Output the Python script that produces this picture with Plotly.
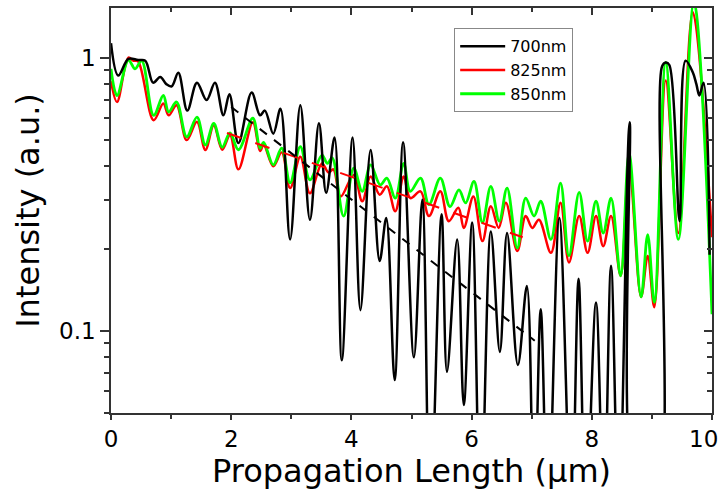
import plotly.graph_objects as go
import math

# ---- data ----
x_700 = [0.00, 0.12, 0.29, 0.45, 0.57, 0.70, 0.82, 0.92, 1.01, 1.12, 1.27, 1.43, 1.59, 1.73, 1.87, 1.97,
         2.12, 2.34, 2.48, 2.56, 2.70, 2.82, 2.98, 3.15, 3.31, 3.46, 3.58, 3.72, 3.84, 4.02, 4.15, 4.32,
         4.47, 4.58, 4.72, 4.86, 5.04, 5.18, 5.31, 5.50, 5.59, 5.76, 5.87, 6.01, 6.15, 6.32, 6.47, 6.59,
         6.77, 6.92, 7.04, 7.15, 7.27, 7.46, 7.66, 7.78, 7.90, 8.07, 8.20, 8.32, 8.45, 8.63, 8.78, 9.04,
         9.17, 9.23, 9.29, 9.46, 9.56, 9.68, 9.74, 9.79, 9.86, 9.96]
y_700 = [1.13, 0.86, 0.99, 0.98, 0.975, 0.81, 0.85, 0.80, 0.785, 0.88, 0.64, 0.81, 0.70, 0.81, 0.615, 0.735,
         0.487, 0.745, 0.615, 0.64, 0.527, 0.65, 0.216, 0.67, 0.255, 0.575, 0.32, 0.51, 0.078, 0.51, 0.119, 0.459,
         0.18, 0.259, 0.066, 0.49, 0.080, 0.302, 0.02, 0.267, 0.0708, 0.216, 0.0535, 0.249, 0.02, 0.231, 0.0837, 0.228,
         0.075, 0.146, 0.02, 0.12, 0.02, 0.259, 0.02, 0.155, 0.02, 0.127, 0.02, 0.173, 0.02, 0.58, 0.02, 0.02,
         0.93, 0.96, 0.94, 0.252, 0.975, 0.884, 0.80, 0.727, 0.81, 0.19]

x_825 = [0.00, 0.10, 0.29, 0.37, 0.45, 0.71, 0.87, 0.96, 1.09, 1.26, 1.43, 1.57, 1.71, 1.85, 1.98, 2.12,
         2.36, 2.48, 2.54, 2.70, 2.84, 2.98, 3.15, 3.31, 3.51, 3.62, 3.70, 3.82, 4.04, 4.18, 4.32, 4.47,
         4.59, 4.73, 4.87, 4.98, 5.15, 5.29, 5.48, 5.62, 5.78, 5.87, 6.03, 6.18, 6.32, 6.45, 6.57, 6.76,
         6.90, 7.01, 7.12, 7.32, 7.48, 7.62, 7.79, 7.93, 8.07, 8.19, 8.32, 8.48, 8.62, 8.82, 8.93, 9.04,
         9.23, 9.44, 9.68, 10.0]
y_825 = [0.82, 0.688, 1.0, 0.975, 0.97, 0.59, 0.679, 0.615, 0.669, 0.499, 0.582, 0.459, 0.566, 0.46, 0.52, 0.39,
         0.58, 0.455, 0.48, 0.40, 0.45, 0.333, 0.434, 0.319, 0.41, 0.38, 0.39, 0.31, 0.372, 0.298, 0.367, 0.315,
         0.338, 0.274, 0.367, 0.306, 0.324, 0.263, 0.324, 0.252, 0.282, 0.238, 0.31, 0.213, 0.286, 0.238, 0.294, 0.196,
         0.263, 0.238, 0.255, 0.193, 0.294, 0.178, 0.263, 0.193, 0.263, 0.204, 0.263, 0.159, 0.40, 0.133, 0.188, 0.122,
         0.825, 0.228, 1.47, 0.22]

x_850 = [0.00, 0.10, 0.29, 0.40, 0.51, 0.71, 0.87, 0.96, 1.09, 1.26, 1.43, 1.57, 1.71, 1.85, 1.98, 2.12,
         2.36, 2.48, 2.54, 2.70, 2.84, 2.98, 3.15, 3.31, 3.51, 3.60, 3.68, 3.87, 4.04, 4.18, 4.32, 4.48,
         4.59, 4.73, 4.87, 4.98, 5.15, 5.29, 5.48, 5.64, 5.79, 5.90, 6.04, 6.18, 6.32, 6.46, 6.59, 6.76,
         6.90, 7.04, 7.15, 7.32, 7.48, 7.62, 7.79, 7.93, 8.07, 8.19, 8.32, 8.48, 8.62, 8.82, 8.93, 9.04,
         9.23, 9.44, 9.70, 10.0]
y_850 = [0.91, 0.727, 0.98, 0.91, 0.975, 0.615, 0.727, 0.633, 0.688, 0.513, 0.606, 0.479, 0.574, 0.47, 0.53, 0.46,
         0.60, 0.466, 0.49, 0.405, 0.466, 0.348, 0.472, 0.357, 0.44, 0.41, 0.43, 0.263, 0.394, 0.324, 0.405, 0.342,
         0.362, 0.306, 0.41, 0.324, 0.362, 0.29, 0.362, 0.285, 0.328, 0.294, 0.352, 0.249, 0.338, 0.252, 0.333, 0.201,
         0.306, 0.263, 0.298, 0.216, 0.347, 0.188, 0.321, 0.213, 0.298, 0.228, 0.306, 0.159, 0.446, 0.133, 0.225, 0.127,
         0.96, 0.216, 1.6, 0.115]

fit_700_x = [2.0, 7.05]
fit_700_y = [0.66, 0.092]
fit_825_x = [1.93, 6.85]
fit_825_y = [0.53, 0.22]

x_tick_major = [0, 2, 4, 6, 8, 10]
x_tick_labels = ["0", "2", "4", "6", "8", ""]   # "10" is drawn as an annotation so it is not cut at the edge
x_last_label = "10"
x_tick_minor = [1, 3, 5, 7, 9]
y_tick_major = [0.1, 1]
y_tick_labels = ["0.1", "1"]
y_tick_minor = [0.05, 0.06, 0.07, 0.08, 0.09, 0.2, 0.3, 0.4, 0.5, 0.6, 0.7, 0.8, 0.9]

y_range = [math.log10(0.05), math.log10(1.52)]
FONT = "DejaVu Sans"
AX = "#333333"

fig = go.Figure()
fig.add_trace(go.Scatter(x=x_825, y=y_825, mode="lines", name="825nm", legendrank=2,
                         line=dict(color="#ff0000", width=2.5, shape="spline", smoothing=1.0)))
fig.add_trace(go.Scatter(x=x_850, y=y_850, mode="lines", name="850nm", legendrank=3,
                         line=dict(color="#00ff00", width=2.8, shape="spline", smoothing=1.0)))
fig.add_trace(go.Scatter(x=x_700, y=y_700, mode="lines", name="700nm", legendrank=1,
                         line=dict(color="#000000", width=2.5, shape="spline", smoothing=1.0)))
fig.add_trace(go.Scatter(x=fit_825_x, y=fit_825_y, mode="lines", showlegend=False,
                         line=dict(color="#ff0000", width=2, dash="longdash")))
fig.add_trace(go.Scatter(x=fit_700_x, y=fit_700_y, mode="lines", showlegend=False,
                         line=dict(color="#000000", width=2, dash="dash")))
# helper trace to show the mirrored (top/right) axes
fig.add_trace(go.Scatter(x=[0, 10], y=[1, 1], xaxis="x2", yaxis="y2", mode="lines",
                         opacity=0, showlegend=False, hoverinfo="skip"))

fig.add_annotation(text=x_last_label, xref="paper", yref="paper", x=1.0133, y=-0.064,
                   xanchor="right", yanchor="middle", showarrow=False,
                   font=dict(size=23, family=FONT, color="black"))

fig.update_layout(
    width=721, height=497,
    margin=dict(l=111, r=9, t=8, b=84),
    plot_bgcolor="white", paper_bgcolor="white",
    font=dict(family=FONT, color="black"),
    showlegend=True,
    legend=dict(x=0.571, y=0.95, xanchor="left", yanchor="top",
                bgcolor="white", bordercolor="#888888", borderwidth=1,
                font=dict(size=16, family=FONT), itemwidth=45,
                tracegroupgap=0),
    xaxis=dict(range=[0, 10], tickvals=x_tick_major, ticktext=x_tick_labels, ticks="outside", ticklen=5, tickwidth=1.5,
               tickcolor=AX, minor=dict(tickvals=x_tick_minor, ticks="outside", ticklen=4, tickwidth=1.5, tickcolor=AX),
               showline=True, linecolor=AX, linewidth=1.5, showgrid=False, zeroline=False,
               tickfont=dict(size=23), automargin=False,
               title=dict(text="Propagation Length (µm)", font=dict(size=32), standoff=8)),
    yaxis=dict(type="log", range=y_range, tickvals=y_tick_major, ticktext=y_tick_labels,
               ticks="outside", ticklen=9, tickwidth=1.5, tickcolor=AX,
               minor=dict(tickvals=y_tick_minor, ticks="outside", ticklen=5, tickwidth=1.5, tickcolor=AX),
               showline=True, linecolor=AX, linewidth=1.5, showgrid=False, zeroline=False,
               tickfont=dict(size=23), automargin=False,
               title=dict(text="Intensity (a.u.)", font=dict(size=32), standoff=10)),
    xaxis2=dict(overlaying="x", side="top", anchor="y", range=[0, 10], tickvals=x_tick_major,
                ticks="inside", ticklen=7, tickwidth=1.5, tickcolor=AX,
                minor=dict(tickvals=x_tick_minor, ticks="inside", ticklen=4, tickwidth=1.5, tickcolor=AX),
                showticklabels=False, showline=True, linecolor=AX, linewidth=1.5,
                showgrid=False, zeroline=False, automargin=False),
    yaxis2=dict(overlaying="y", side="right", anchor="x", type="log", range=y_range, tickvals=y_tick_major,
                ticks="inside", ticklen=8, tickwidth=1.5, tickcolor=AX,
                minor=dict(tickvals=y_tick_minor, ticks="inside", ticklen=5, tickwidth=1.5, tickcolor=AX),
                showticklabels=False, showline=True, linecolor=AX, linewidth=1.5,
                showgrid=False, zeroline=False, automargin=False),
)

fig.write_html("out.html")
